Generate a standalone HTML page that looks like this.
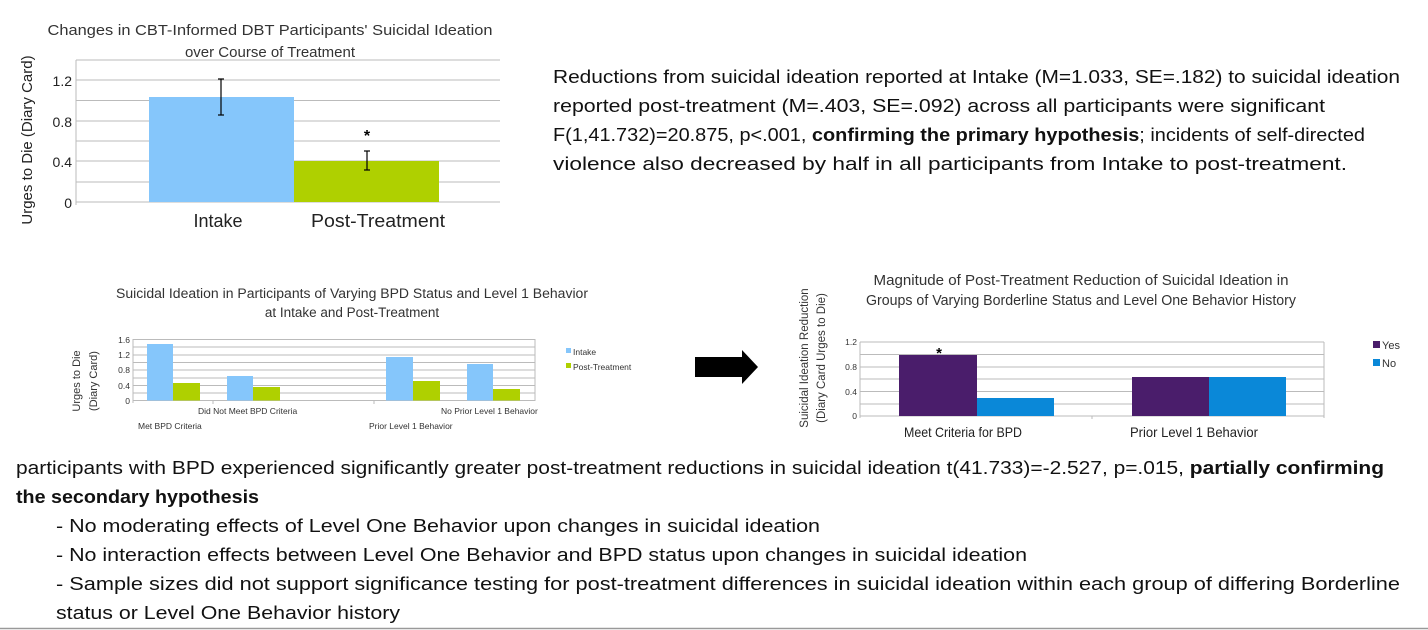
<!DOCTYPE html>
<html><head><meta charset="utf-8"><style>
html,body{margin:0;padding:0;background:#fff;width:1428px;height:630px;overflow:hidden}
svg{display:block;font-family:"Liberation Sans",sans-serif}
</style></head><body>
<svg width="1428" height="630" viewBox="0 0 1428 630" xmlns="http://www.w3.org/2000/svg">
<!-- Chart 1 -->
<g fill="#333">
<text x="270" y="35" font-size="15" text-anchor="middle" textLength="445" lengthAdjust="spacingAndGlyphs">Changes in CBT-Informed DBT Participants' Suicidal Ideation</text>
<text x="270" y="57" font-size="15" text-anchor="middle">over Course of Treatment</text>
</g>
<g stroke="#bbb" stroke-width="1">
<line x1="76" y1="60" x2="500" y2="60"/><line x1="76" y1="80" x2="500" y2="80"/><line x1="76" y1="100.5" x2="500" y2="100.5"/><line x1="76" y1="121" x2="500" y2="121"/><line x1="76" y1="141" x2="500" y2="141"/><line x1="76" y1="161" x2="500" y2="161"/><line x1="76" y1="182" x2="500" y2="182"/><line x1="76" y1="202" x2="500" y2="202"/>
<line x1="76" y1="60" x2="76" y2="205"/>
</g>
<rect x="149" y="97" width="145" height="105" fill="#85c6fb"/>
<rect x="294" y="161" width="145" height="41" fill="#afd000"/>
<g stroke="#000" stroke-width="1.2"><line x1="221" y1="79" x2="221" y2="115"/><line x1="218" y1="79" x2="224" y2="79"/><line x1="218" y1="115" x2="224" y2="115"/>
<line x1="367" y1="151" x2="367" y2="170"/><line x1="364" y1="151" x2="370" y2="151"/><line x1="364" y1="170" x2="370" y2="170"/></g>
<text x="367" y="141" font-size="16" text-anchor="middle" font-weight="bold">*</text>
<g font-size="14" fill="#222" text-anchor="end"><text x="72" y="86">1.2</text><text x="72" y="127">0.8</text><text x="72" y="167">0.4</text><text x="72" y="208">0</text></g>
<text transform="translate(32,140) rotate(-90)" font-size="15" fill="#222" text-anchor="middle">Urges to Die (Diary Card)</text>
<text x="218" y="227" font-size="18" fill="#222" text-anchor="middle">Intake</text>
<text x="378" y="227" font-size="18" fill="#222" text-anchor="middle" textLength="134" lengthAdjust="spacingAndGlyphs">Post-Treatment</text>

<!-- Paragraph -->
<g font-size="18.5" fill="#111">
<text x="553" y="83" textLength="847" lengthAdjust="spacingAndGlyphs">Reductions from suicidal ideation reported at Intake (M=1.033, SE=.182) to suicidal ideation</text>
<text x="553" y="112" textLength="772" lengthAdjust="spacingAndGlyphs">reported post-treatment (M=.403, SE=.092) across all participants were significant</text>
<text x="553" y="141" textLength="812" lengthAdjust="spacingAndGlyphs">F(1,41.732)=20.875, p&lt;.001, <tspan font-weight="bold">confirming the primary hypothesis</tspan>; incidents of self-directed</text>
<text x="553" y="170" textLength="794" lengthAdjust="spacingAndGlyphs">violence also decreased by half in all participants from Intake to post-treatment.</text>
</g>

<!-- Chart 2 -->
<g fill="#333" font-size="13.5" text-anchor="middle">
<text x="352" y="298" textLength="472" lengthAdjust="spacingAndGlyphs">Suicidal Ideation in Participants of Varying BPD Status and Level 1 Behavior</text>
<text x="352" y="317">at Intake and Post-Treatment</text>
</g>
<g stroke="#bbb" stroke-width="1">
<line x1="133" y1="339.5" x2="535" y2="339.5"/><line x1="133" y1="347" x2="535" y2="347"/><line x1="133" y1="355" x2="535" y2="355"/><line x1="133" y1="362.5" x2="535" y2="362.5"/><line x1="133" y1="370" x2="535" y2="370"/><line x1="133" y1="378" x2="535" y2="378"/><line x1="133" y1="385.5" x2="535" y2="385.5"/><line x1="133" y1="393" x2="535" y2="393"/><line x1="133" y1="400.5" x2="535" y2="400.5"/>
<line x1="133" y1="339" x2="133" y2="403"/><line x1="535" y1="339" x2="535" y2="401"/><line x1="213" y1="401" x2="213" y2="404"/><line x1="374" y1="401" x2="374" y2="404"/>
</g>
<g fill="#85c6fb"><rect x="147" y="344" width="26" height="56.5"/><rect x="227" y="376" width="26" height="24.5"/><rect x="386" y="357" width="27" height="43.5"/><rect x="467" y="364" width="26" height="36.5"/></g>
<g fill="#afd000"><rect x="173" y="383" width="27" height="17.5"/><rect x="253" y="387" width="27" height="13.5"/><rect x="413" y="381" width="27" height="19.5"/><rect x="493" y="389" width="27" height="11.5"/></g>
<g font-size="8.5" fill="#333" text-anchor="end"><text x="130" y="343">1.6</text><text x="130" y="358">1.2</text><text x="130" y="373">0.8</text><text x="130" y="389">0.4</text><text x="130" y="404">0</text></g>
<g font-size="11" fill="#333" text-anchor="middle"><text transform="translate(80,381) rotate(-90)">Urges to Die</text><text transform="translate(97,381) rotate(-90)">(Diary Card)</text></g>
<g font-size="8.5" fill="#333">
<text x="198" y="414">Did Not Meet BPD Criteria</text><text x="138" y="429">Met BPD Criteria</text>
<text x="441" y="414">No Prior Level 1 Behavior</text><text x="369" y="429">Prior Level 1 Behavior</text>
<rect x="566" y="348" width="5" height="5" fill="#85c6fb"/><text x="573" y="355">Intake</text>
<rect x="566" y="363" width="5" height="5" fill="#afd000"/><text x="573" y="370">Post-Treatment</text>
</g>

<!-- Arrow -->
<polygon points="695,357 742,357 742,350 758,367 742,384 742,377 695,377" fill="#000"/>

<!-- Chart 3 -->
<g fill="#333" font-size="14.5" text-anchor="middle">
<text x="1081" y="285" textLength="415" lengthAdjust="spacingAndGlyphs">Magnitude of Post-Treatment Reduction of Suicidal Ideation in</text>
<text x="1081" y="305" textLength="430" lengthAdjust="spacingAndGlyphs">Groups of Varying Borderline Status and Level One Behavior History</text>
</g>
<g stroke="#bbb" stroke-width="1">
<line x1="860" y1="342" x2="1324" y2="342"/><line x1="860" y1="354.5" x2="1324" y2="354.5"/><line x1="860" y1="367" x2="1324" y2="367"/><line x1="860" y1="379" x2="1324" y2="379"/><line x1="860" y1="391.5" x2="1324" y2="391.5"/><line x1="860" y1="404" x2="1324" y2="404"/><line x1="860" y1="416" x2="1324" y2="416"/>
<line x1="860" y1="342" x2="860" y2="418"/><line x1="1324" y1="342" x2="1324" y2="418"/><line x1="1092" y1="416" x2="1092" y2="419"/>
</g>
<rect x="899" y="355" width="78" height="61" fill="#4a1d6b"/>
<rect x="977" y="398" width="77" height="18" fill="#0a88d8"/>
<rect x="1132" y="377" width="77" height="39" fill="#4a1d6b"/>
<rect x="1209" y="377" width="77" height="39" fill="#0a88d8"/>
<text x="939" y="358" font-size="15" text-anchor="middle" font-weight="bold">*</text>
<g font-size="8.5" fill="#333" text-anchor="end"><text x="857" y="345">1.2</text><text x="857" y="370">0.8</text><text x="857" y="395">0.4</text><text x="857" y="419">0</text></g>
<g font-size="11.5" fill="#333" text-anchor="middle"><text transform="translate(808,358) rotate(-90)">Suicidal Ideation Reduction</text><text transform="translate(825,358) rotate(-90)">(Diary Card Urges to Die)</text></g>
<g font-size="14" fill="#222" text-anchor="middle"><text x="963" y="437" textLength="118" lengthAdjust="spacingAndGlyphs">Meet Criteria for BPD</text><text x="1194" y="437" textLength="128" lengthAdjust="spacingAndGlyphs">Prior Level 1 Behavior</text></g>
<g font-size="11" fill="#333"><rect x="1373" y="341" width="7" height="7" fill="#4a1d6b"/><text x="1382" y="349">Yes</text><rect x="1373" y="359" width="7" height="7" fill="#0a88d8"/><text x="1382" y="367">No</text></g>

<!-- Bottom text -->
<g font-size="18.5" fill="#111">
<text x="16" y="474" textLength="1368" lengthAdjust="spacingAndGlyphs">participants with BPD experienced significantly greater post-treatment reductions in suicidal ideation t(41.733)=-2.527, p=.015, <tspan font-weight="bold">partially confirming</tspan></text>
<text x="16" y="503" font-weight="bold" textLength="243" lengthAdjust="spacingAndGlyphs">the secondary hypothesis</text>
<text x="56" y="532" textLength="764" lengthAdjust="spacingAndGlyphs">- No moderating effects of Level One Behavior upon changes in suicidal ideation</text>
<text x="56" y="561" textLength="971" lengthAdjust="spacingAndGlyphs">- No interaction effects between Level One Behavior and BPD status upon changes in suicidal ideation</text>
<text x="56" y="590" textLength="1344" lengthAdjust="spacingAndGlyphs">- Sample sizes did not support significance testing for post-treatment differences in suicidal ideation within each group of differing Borderline</text>
<text x="56" y="619" textLength="344" lengthAdjust="spacingAndGlyphs">status or Level One Behavior history</text>
</g>
<line x1="0" y1="628.5" x2="1428" y2="628.5" stroke="#999" stroke-width="1.5"/>
</svg>
</body></html>
